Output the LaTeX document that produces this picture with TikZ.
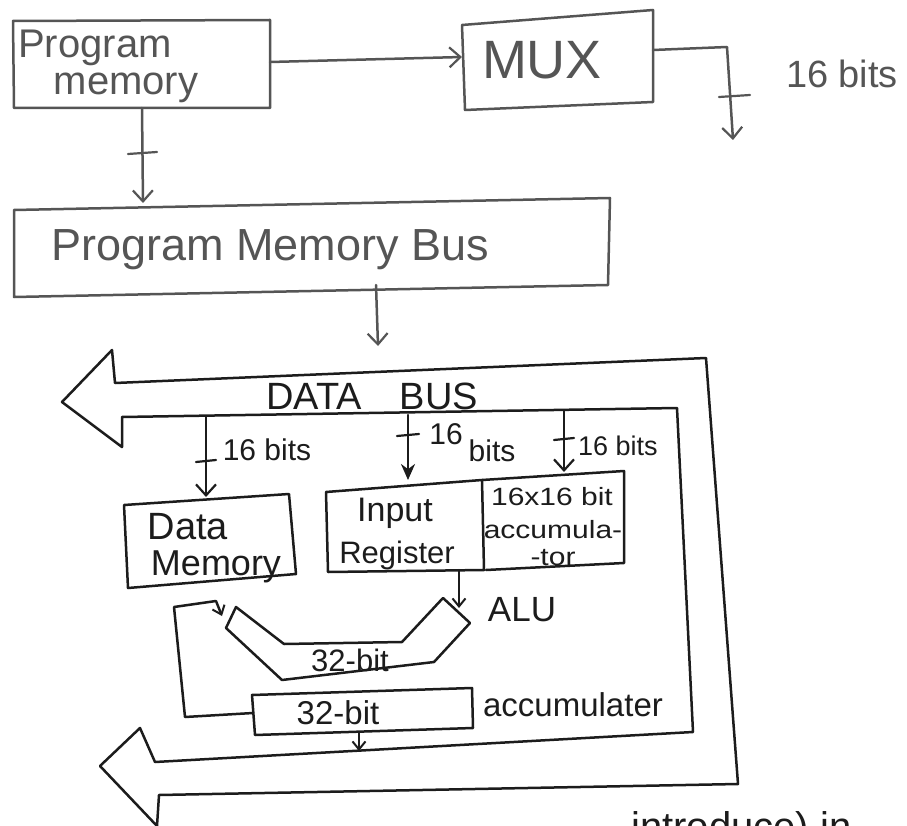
\documentclass[tikz,border=0pt]{standalone}
\usepackage{fontspec}
\setmainfont{Liberation Sans}
\usetikzlibrary{arrows.meta}
\definecolor{pencil}{HTML}{555555}
\definecolor{ink}{HTML}{1C1C1C}
\begin{document}
\begin{tikzpicture}[x=1pt,y=-1pt,
  line width=2.5pt, line join=round, line cap=round,
  lbl/.style={font=\fontsize{#1}{#1}\selectfont, inner sep=0pt},
  barb/.style={-{Straight Barb[length=11pt,width=20pt,line width=2.2pt]}},
  smallbarb/.style={-{Straight Barb[length=8pt,width=13pt,line width=2pt]}},
  solidtip/.style={-{Stealth[length=16pt,width=14pt]}},
  tick/.style={line width=2.2pt}]
\useasboundingbox (0,0) rectangle (907,826);
\clip (0,0) rectangle (907,826);

% ---------- program memory ----------
\coordinate (pmNW) at (13,21);  \coordinate (pmNE) at (270,20);
\coordinate (pmSE) at (270,108); \coordinate (pmSW) at (14,108);
\draw[pencil] (pmNW) -- (pmNE) -- (pmSE) -- (pmSW) -- cycle;
\node[lbl=40, text=pencil] (pmt1) at (95,48) {Program};
\node[lbl=40, text=pencil] (pmt2) at (126,88) {memory};

% ---------- multiplexer ----------
\coordinate (muxNW) at (462,25); \coordinate (muxNE) at (653,10);
\coordinate (muxSE) at (653,102); \coordinate (muxSW) at (465,110);
\draw[pencil] (muxNW) -- (muxNE) -- (muxSE) -- (muxSW) -- cycle;
\node[lbl=54, text=pencil] (muxt) at (542,60) {MUX};

\coordinate (pmOut) at (270,62);
\coordinate (muxIn) at (462,57);
\draw[pencil, barb] (pmOut) -- (muxIn);

\coordinate (muxOut) at (653,50);
\coordinate (muxBend) at (727,47);
\coordinate (muxEnd) at (733,140);
\draw[pencil, barb] (muxOut) -- (muxBend) -- (muxEnd);
\coordinate (t0a) at (719,97); \coordinate (t0b) at (750,95);
\draw[pencil, tick] (t0a) -- (t0b);
\node[lbl=38, text=pencil] (bits0) at (842,74) {16 bits};

% ---------- program memory bus ----------
\coordinate (pmDown) at (142,108);
\coordinate (pmbIn) at (143,203);
\draw[pencil, barb] (pmDown) -- (pmbIn);
\coordinate (t1a) at (128,154); \coordinate (t1b) at (157,152);
\draw[pencil, tick] (t1a) -- (t1b);

\coordinate (pbNW) at (14,210); \coordinate (pbNE) at (610,198);
\coordinate (pbSE) at (608,285); \coordinate (pbSW) at (14,297);
\draw[pencil] (pbNW) -- (pbNE) -- (pbSE) -- (pbSW) -- cycle;
\node[lbl=45, text=pencil] (pmbt) at (270,250) {Program Memory Bus};

\coordinate (pbOut) at (376,285);
\coordinate (busIn) at (378,346);
\draw[pencil, barb] (pbOut) -- (busIn);

% ---------- data bus (U-shaped double arrow) ----------
\draw[ink]
  (62,402) -- (112,350) -- (115,383) -- (706,358)
  -- (738,784) -- (159,795) -- (157,826) -- (100,766)
  -- (140,728) -- (155,762) -- (693,732)
  -- (677,408) -- (122,417) -- (122,447) -- cycle;
\node[lbl=38, text=ink] (dbus) at (372,396) {DATA\quad BUS};

% ---------- bus taps ----------
\coordinate (tap1) at (206,417); \coordinate (dmIn) at (206,497);
\draw[ink, barb] (tap1) -- (dmIn);
\coordinate (t2a) at (196,462); \coordinate (t2b) at (216,460);
\draw[ink, tick] (t2a) -- (t2b);
\node[lbl=30, text=ink] (b1) at (267,450) {16 bits};

\coordinate (tap2) at (408,415); \coordinate (irIn) at (408,480);
\draw[ink, solidtip] (tap2) -- (irIn);
\coordinate (t3a) at (397,436); \coordinate (t3b) at (419,434);
\draw[ink, tick] (t3a) -- (t3b);
\node[lbl=30, text=ink] (b2a) at (446,434) {16};
\node[lbl=30, text=ink] (b2b) at (492,451) {bits};

\coordinate (tap3) at (564,411); \coordinate (acIn) at (564,472);
\draw[ink, barb] (tap3) -- (acIn);
\coordinate (t4a) at (554,440); \coordinate (t4b) at (574,438);
\draw[ink, tick] (t4a) -- (t4b);
\node[lbl=27, text=ink] (b3) at (618,446) {16 bits};

% ---------- data memory ----------
\coordinate (dmNW) at (124,505); \coordinate (dmNE) at (289,494);
\coordinate (dmSE) at (296,574); \coordinate (dmSW) at (128,588);
\draw[ink] (dmNW) -- (dmNE) -- (dmSE) -- (dmSW) -- cycle;
\node[lbl=38, text=ink] (dmt1) at (188,527) {Data};
\node[lbl=36, text=ink] (dmt2) at (216,567) {Memory};

% ---------- input register ----------
\coordinate (irNW) at (326,492); \coordinate (irNE) at (482,480);
\coordinate (irSE) at (484,570); \coordinate (irSW) at (328,572);
\draw[ink] (irNW) -- (irNE) -- (irSE) -- (irSW) -- cycle;
\node[lbl=34, text=ink] (irt1) at (395,513) {Input};
\node[lbl=31, text=ink] (irt2) at (397,555) {Register};

% ---------- 16x16 bit block ----------
\coordinate (mlNE) at (624,471); \coordinate (mlSE) at (624,563);
\coordinate (mlSW) at (486,570);
\draw[ink] (irNE) -- (mlNE) -- (mlSE) -- (mlSW);
\node[lbl=25, text=ink, xscale=1.2] (mlt1) at (552,497) {16x16 bit};
\node[lbl=25, text=ink, xscale=1.2] (mlt2) at (553,530) {accumula-};
\node[lbl=25, text=ink, xscale=1.2] (mlt3) at (553,558) {-tor};

% ---------- ALU ----------
\draw[ink] (236,607) -- (284,644) -- (402,642) -- (443,598)
  -- (470,623) -- (434,662) -- (282,680) -- (226,628) -- cycle;
\node[lbl=35, text=ink] (alut) at (522,610) {ALU};
\node[lbl=31, text=ink] (alub) at (350,660) {32-bit};

\coordinate (irOut) at (459,570); \coordinate (aluB) at (459,608);
\draw[ink, smallbarb] (irOut) -- (aluB);

% ---------- accumulator ----------
\coordinate (acNW) at (252,695); \coordinate (acNE) at (472,688);
\coordinate (acSE) at (473,728); \coordinate (acSW) at (255,735);
\draw[ink] (acNW) -- (acNE) -- (acSE) -- (acSW) -- cycle;
\node[lbl=33, text=ink] (acct) at (338,713) {32-bit};
\node[lbl=33, text=ink] (accl) at (573,705) {accumulater};

% feedback from the accumulator to the ALU
\coordinate (acL) at (253,713); \coordinate (fb1) at (185,717);
\coordinate (fb2) at (174,607); \coordinate (fb3) at (216,601);
\coordinate (aluA) at (222,616);
\draw[ink, smallbarb] (acL) -- (fb1) -- (fb2) -- (fb3) -- (aluA);

% accumulator result onto the bus
\coordinate (acOut) at (359,733); \coordinate (busOut) at (359,751);
\draw[ink, smallbarb] (acOut) -- (busOut);

% ---------- text running off the lower edge ----------
\node[lbl=40, text=ink, anchor=base west] (cut) at (630,840) {introduce) in};
\end{tikzpicture}
\end{document}
